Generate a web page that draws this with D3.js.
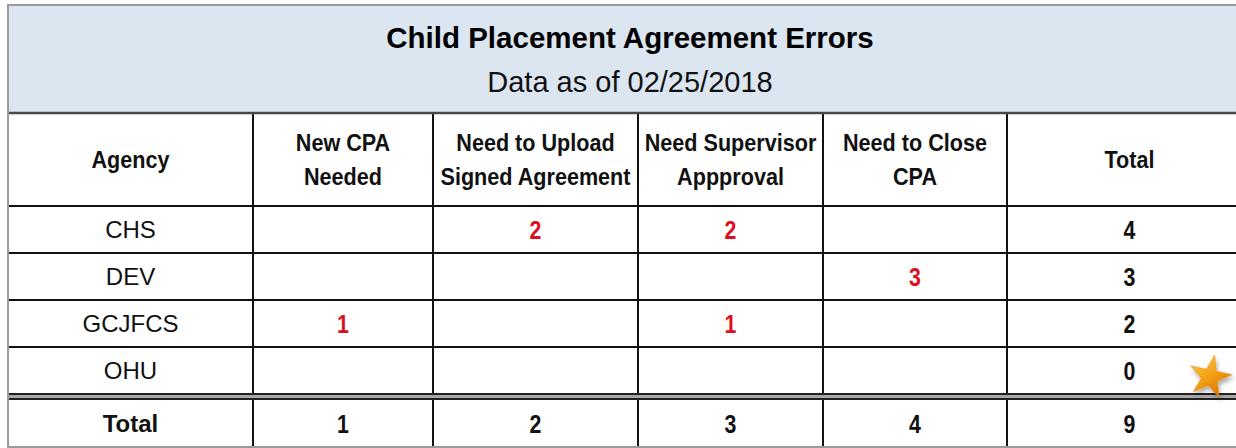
<!DOCTYPE html>
<html>
<head>
<meta charset="utf-8">
<script src="https://cdn.jsdelivr.net/npm/d3@7"></script>
<style>
  body { margin: 0; background: #fff; }
  svg { display: block; }
  text { font-family: "Liberation Sans", Arial, sans-serif; }
</style>
</head>
<body>
<div id="chart"></div>
<script>
// ---- data ----
var title = "Child Placement Agreement Errors";
var subtitle = "Data as of 02/25/2018";

var agencies = ["CHS", "DEV", "GCJFCS", "OHU"];
var headers = [
    ["Agency"],
    ["New CPA", "Needed"],
    ["Need to Upload", "Signed Agreement"],
    ["Need Supervisor", "Appproval"],
    ["Need to Close", "CPA"],
    ["Total"]
];
var newCpaNeeded      = [null, null, 1, null];
var uploadSigned      = [2, null, null, null];
var supervisorApprove = [2, null, 1, null];
var closeCpa          = [null, 3, null, null];
var agencyTotals      = [4, 3, 2, 0];
var columnTotals      = [1, 2, 3, 4, 9];

var series = [newCpaNeeded, uploadSigned, supervisorApprove, closeCpa];

// ---- layout ----
var W = 1236, H = 448;
var colEdges = [8, 253, 433, 638, 823, 1007, 1252];
var yTop = 5, bandBottom = 113, headBottom = 206, bodyBottom = 394, totalTop = 399, yBottom = 447;

var svg = d3.select("#chart").append("svg")
    .attr("width", W)
    .attr("height", H);

var colIdx = d3.range(headers.length);
var xLeft = d3.scaleOrdinal().domain(colIdx).range(colEdges.slice(0, -1));
var xRight = d3.scaleOrdinal().domain(colIdx).range(colEdges.slice(1));
function xMid(i) { return (xLeft(i) + xRight(i)) / 2; }

var y = d3.scaleBand().domain(agencies).range([headBottom, bodyBottom]);

// title band
svg.append("rect")
    .attr("x", colEdges[0]).attr("y", yTop)
    .attr("width", colEdges[6] - colEdges[0]).attr("height", bandBottom - yTop)
    .attr("fill", "#dce6f1");

var cx = (colEdges[0] + colEdges[6]) / 2;
svg.append("text")
    .attr("x", cx).attr("y", 48)
    .attr("text-anchor", "middle")
    .style("font-size", "29.5px").style("font-weight", "bold")
    .attr("fill", "#000")
    .text(title);
svg.append("text")
    .attr("x", cx).attr("y", 92)
    .attr("text-anchor", "middle")
    .style("font-size", "29px")
    .attr("fill", "#111")
    .text(subtitle);

// header labels
var hdr = svg.selectAll(".hdr")
    .data(headers)
    .enter().append("g")
    .attr("class", "hdr")
    .attr("transform", function(d, i) {
        return "translate(" + xMid(i) + ",0) scale(0.9,1)";
    });

hdr.selectAll("text")
    .data(function(d) { return d; })
    .enter().append("text")
    .attr("text-anchor", "middle")
    .attr("y", function(d, j, nodes) {
        return nodes.length === 1 ? 168 : 151 + j * 34;
    })
    .style("font-size", "24px").style("font-weight", "bold")
    .attr("fill", "#111")
    .text(function(d) { return d; });

// agency names
svg.selectAll(".agency")
    .data(agencies)
    .enter().append("text")
    .attr("class", "agency")
    .attr("x", xMid(0))
    .attr("y", function(d) { return y(d) + y.bandwidth() / 2 + 8.5; })
    .attr("text-anchor", "middle")
    .style("font-size", "24px")
    .attr("fill", "#111")
    .text(function(d) { return d; });

// value cells
function numText(g, x, yy, v, color) {
    g.append("text")
        .attr("transform", "translate(" + x + "," + yy + ") scale(0.82,1)")
        .attr("text-anchor", "middle")
        .style("font-size", "26px").style("font-weight", "bold")
        .attr("fill", color)
        .text(v);
}

var cells = svg.append("g");
series.forEach(function(vals, s) {
    vals.forEach(function(v, r) {
        if (v === null) return;
        numText(cells, xMid(s + 1), y(agencies[r]) + y.bandwidth() / 2 + 9.5, v, "#dd0f1f");
    });
});
agencyTotals.forEach(function(v, r) {
    numText(cells, xMid(5), y(agencies[r]) + y.bandwidth() / 2 + 9.5, v, "#111");
});

// total row
var totalMid = (totalTop + yBottom) / 2;
svg.append("text")
    .attr("x", xMid(0)).attr("y", totalMid + 9)
    .attr("text-anchor", "middle")
    .style("font-size", "24px").style("font-weight", "bold")
    .attr("fill", "#111")
    .text("Total");
columnTotals.forEach(function(v, i) {
    numText(cells, xMid(i + 1), totalMid + 9.5, v, "#111");
});

// grid lines
var grid = svg.append("g");
colEdges.slice(1, -1).forEach(function(x) {
    grid.append("line")
        .attr("x1", x).attr("x2", x)
        .attr("y1", bandBottom).attr("y2", yBottom)
        .attr("stroke", "#111").attr("stroke-width", 2);
});
[headBottom].concat(agencies.slice(1).map(function(a) { return y(a); })).forEach(function(yy) {
    grid.append("line")
        .attr("x1", colEdges[0]).attr("x2", colEdges[6])
        .attr("y1", yy).attr("y2", yy)
        .attr("stroke", "#111").attr("stroke-width", 2);
});
// double line above totals
grid.append("rect")
    .attr("x", colEdges[0]).attr("y", bodyBottom)
    .attr("width", colEdges[6] - colEdges[0]).attr("height", totalTop - bodyBottom)
    .attr("fill", "#a8a8a8");
[bodyBottom, totalTop].forEach(function(yy) {
    grid.append("line")
        .attr("x1", colEdges[0]).attr("x2", colEdges[6])
        .attr("y1", yy).attr("y2", yy)
        .attr("stroke", "#222").attr("stroke-width", 2);
});
grid.append("line")
    .attr("x1", colEdges[0]).attr("x2", colEdges[6])
    .attr("y1", bandBottom).attr("y2", bandBottom)
    .attr("stroke", "#4a4a4a").attr("stroke-width", 2.5);

// outer border
svg.append("rect")
    .attr("x", colEdges[0]).attr("y", yTop)
    .attr("width", colEdges[6] - colEdges[0]).attr("height", yBottom - yTop)
    .attr("fill", "none")
    .attr("stroke", "#9a9a9a").attr("stroke-width", 2);

// star decoration
var defs = svg.append("defs");
var grad = defs.append("linearGradient").attr("id", "starGrad")
    .attr("x1", "0").attr("y1", "0").attr("x2", "1").attr("y2", "1");
grad.append("stop").attr("offset", "0%").attr("stop-color", "#ffd24a");
grad.append("stop").attr("offset", "55%").attr("stop-color", "#f39a12");
grad.append("stop").attr("offset", "100%").attr("stop-color", "#c86a00");
var shadow = defs.append("filter").attr("id", "starShadow")
    .attr("x", "-50%").attr("y", "-50%").attr("width", "200%").attr("height", "200%");
shadow.append("feDropShadow")
    .attr("dx", 2).attr("dy", 3).attr("stdDeviation", 2)
    .attr("flood-color", "#000").attr("flood-opacity", 0.35);

svg.append("path")
    .attr("d", d3.symbol().type(d3.symbolStar).size(560)())
    .attr("transform", "translate(1210,377) rotate(12)")
    .attr("fill", "url(#starGrad)")
    .attr("stroke", "#d98200").attr("stroke-width", 0.5)
    .attr("filter", "url(#starShadow)");
</script>
</body>
</html>
